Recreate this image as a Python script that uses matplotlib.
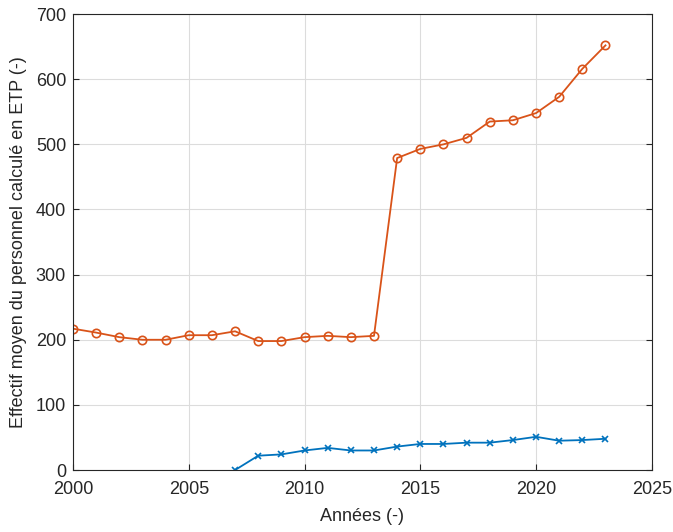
import matplotlib
matplotlib.use('Agg')
import matplotlib.pyplot as plt

plt.rcParams['font.family'] = ['Liberation Sans', 'DejaVu Sans']

# annees et effectifs (ETP)
annees_total = list(range(2000, 2024))
etp_total = [217, 211, 204, 200, 200, 207, 207, 213, 198, 198, 204, 206,
             204, 206, 479, 493, 500, 510, 535, 537, 548, 573, 616, 652]

annees_part = list(range(2007, 2024))
etp_part = [0, 22, 24, 30, 34, 30, 30, 36, 40, 40, 42, 42, 46, 51, 45, 46, 48]

fig = plt.figure(figsize=(6.73, 5.32), dpi=100)
ax = fig.add_axes([0.1085, 0.1165, 0.860, 0.857])

ax.plot(annees_part, etp_part, '-x', color='#0072BD', lw=1.3, ms=5, mew=1.2)
ax.plot(annees_total, etp_total, '-o', color='#D95319', lw=1.3, ms=6,
        mfc='none', mew=1.2)

ax.set_xlim(2000, 2025)
ax.set_ylim(0, 700)
ax.set_xticks(range(2000, 2026, 5))
ax.set_yticks(range(0, 701, 100))
ax.grid(True, color='#dcdcdc', lw=0.8)
ax.set_axisbelow(True)
ax.tick_params(direction='in', labelsize=13, length=4, right=True, color='#262626',
               labelcolor='#262626')
ax.tick_params(axis='x', pad=8)
ax.tick_params(axis='y', pad=5)
for s in ax.spines.values():
    s.set_color('#262626')
    s.set_linewidth(0.8)

ax.set_xlabel('Années (-)', fontsize=13, color='#262626', labelpad=7)
ax.set_ylabel('Effectif moyen du personnel calculé en ETP (-)', fontsize=13,
              color='#262626', labelpad=6)

fig.savefig('out.png', dpi=100)
